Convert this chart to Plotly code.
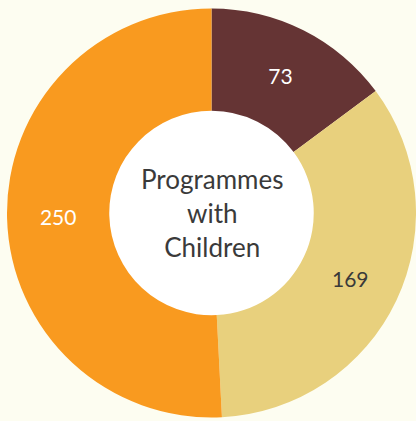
import plotly.graph_objects as go

labels = ["Group A", "Group B", "Group C"]
values = [73, 169, 250]
colors = ["#653434", "#e8d07d", "#f99a1f"]
text_colors = ["#ffffff", "#3a3a3a", "#ffffff"]
center_text = "Programmes<br>with<br>Children"

W, H = 416, 421
cx, cy_top = 211.5, 213.0
cy = H - cy_top
R = 204.5
hole = 0.5
BG = "#fdfdf1"

fig = go.Figure()
fig.add_trace(go.Pie(
    labels=labels,
    values=values,
    sort=False,
    direction="clockwise",
    rotation=0,
    hole=hole,
    marker=dict(colors=colors, line=dict(width=0)),
    textinfo="value",
    textposition="inside",
    insidetextorientation="horizontal",
    textfont=dict(family="Lato", size=21, color=text_colors),
    hoverinfo="label+value",
    showlegend=False,
    domain=dict(x=[(cx - R) / W, 1.0], y=[(cy - R) / H, (cy + R) / H]),
))

hr = R * hole + 2
fig.add_shape(type="circle", xref="paper", yref="paper", layer="below",
              x0=(cx - hr) / W, x1=(cx + hr) / W, y0=(cy - hr) / H, y1=(cy + hr) / H,
              fillcolor="#ffffff", line=dict(width=0))

fig.add_annotation(text=center_text, x=cx / W, y=cy / H, xref="paper", yref="paper",
                   showarrow=False, xanchor="center", yanchor="middle",
                   font=dict(family="Lato", size=26, color="#3a3a3a"))

fig.update_layout(
    width=W, height=H,
    margin=dict(l=0, r=0, t=0, b=0),
    paper_bgcolor=BG,
    plot_bgcolor=BG,
)

fig.write_html(
    "out.html",
    config={"displayModeBar": False},
    post_script="document.body.style.margin='0';document.body.style.overflow='hidden';document.body.style.background='" + BG + "';",
)
